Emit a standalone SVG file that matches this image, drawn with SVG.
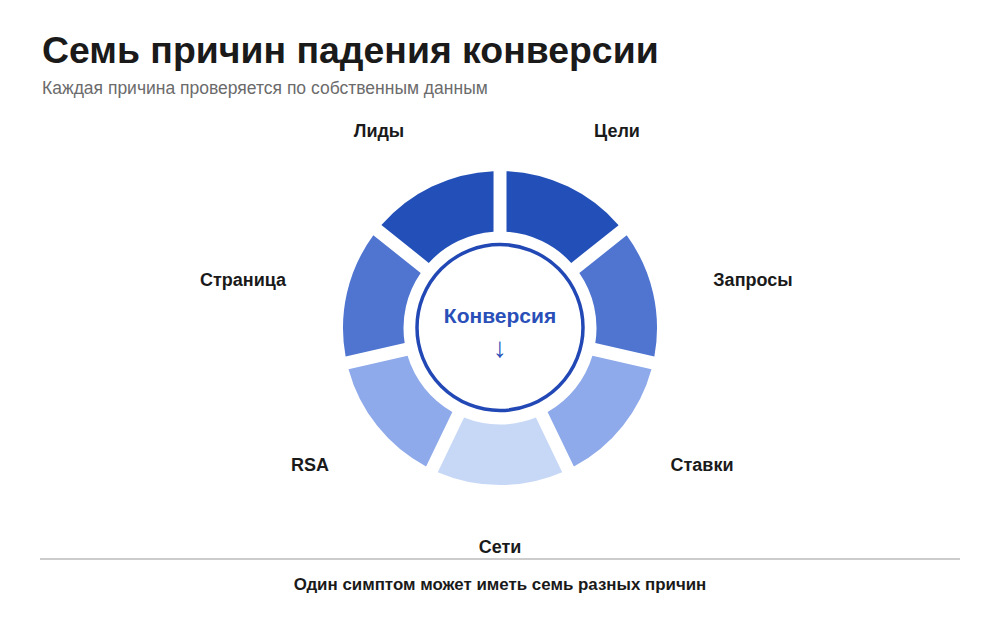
<svg xmlns="http://www.w3.org/2000/svg" width="1000" height="625" viewBox="0 0 1000 625">
<style>
.title{font-family:"Liberation Sans",Arial,sans-serif;font-weight:bold;font-size:37.4px;fill:#1a1a1a}
.sub{font-family:"Liberation Sans",Arial,sans-serif;font-size:17.5px;fill:#6b6b6b}
.lbl{font-family:"Liberation Sans",Arial,sans-serif;font-weight:bold;font-size:18px;fill:#1a1a1a;text-anchor:middle}
.foot{font-family:"Liberation Sans",Arial,sans-serif;font-weight:bold;font-size:16.9px;fill:#1a1a1a;text-anchor:middle}
.c1{fill:#2350b8}.c2{fill:#4f75d1}.c3{fill:#8eaaea}.c4{fill:#c7d8f7}
.core{fill:#ffffff;stroke:#2248b5;stroke-width:3.5}
.ctext{font-family:"Liberation Sans",Arial,sans-serif;font-weight:bold;font-size:21px;fill:#2a4fb8;text-anchor:middle}
.arrow{font-family:"Liberation Sans",Arial,sans-serif;font-size:28px;fill:#2a4fb8;text-anchor:middle}
</style>
<defs>
<path id="seg" d="M506.50,171.13 A157,157 0 0 1 618.62,225.15 L571.24,262.91 A96.5,96.5 0 0 0 506.50,231.72 Z"/>
</defs>
<rect width="1000" height="625" fill="#ffffff"/>
<g id="header">
<text class="title" x="42" y="63">Семь причин падения конверсии</text>
<text class="sub" x="42" y="94">Каждая причина проверяется по собственным данным</text>
</g>
<g id="connectors"></g>
<g id="node-celi"><use href="#seg" class="c1"/><text class="lbl" x="617" y="137">Цели</text></g>
<g id="node-zaprosy"><use href="#seg" class="c2" transform="rotate(51.4286 500 328)"/><text class="lbl" x="753" y="286">Запросы</text></g>
<g id="node-stavki"><use href="#seg" class="c3" transform="rotate(102.857 500 328)"/><text class="lbl" x="702" y="471">Ставки</text></g>
<g id="node-seti"><use href="#seg" class="c4" transform="rotate(154.286 500 328)"/><text class="lbl" x="500" y="553">Сети</text></g>
<g id="node-rsa"><use href="#seg" class="c3" transform="rotate(205.714 500 328)"/><text class="lbl" x="310" y="471">RSA</text></g>
<g id="node-stranica"><use href="#seg" class="c2" transform="rotate(257.143 500 328)"/><text class="lbl" x="243" y="286">Страница</text></g>
<g id="node-lidy"><use href="#seg" class="c1" transform="rotate(308.571 500 328)"/><text class="lbl" x="379" y="137">Лиды</text></g>
<g id="node-core">
<circle class="core" cx="500" cy="327.5" r="83"/>
<text class="ctext" x="500" y="323">Конверсия</text>
<text class="arrow" x="500" y="357">↓</text>
</g>
<g id="footer">
<line x1="40" y1="559" x2="960" y2="559" stroke="#cccccc" stroke-width="2"/>
<text class="foot" x="500" y="590">Один симптом может иметь семь разных причин</text>
</g>
</svg>
